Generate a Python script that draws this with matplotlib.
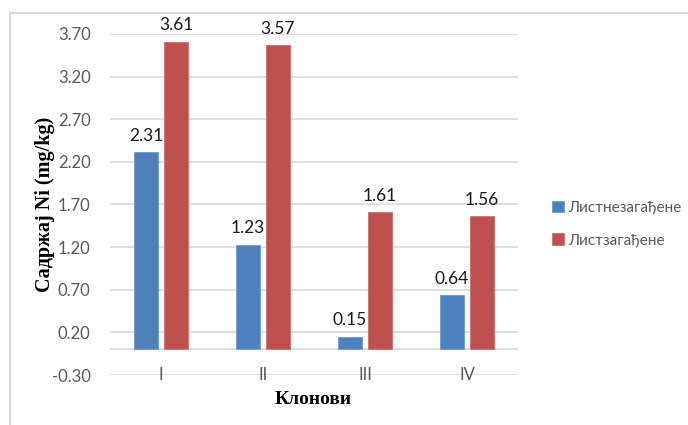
import matplotlib.pyplot as plt
import numpy as np

clones = ['I', 'II', 'III', 'IV']
unpolluted = [2.31, 1.23, 0.15, 0.64]
polluted = [3.61, 3.57, 1.61, 1.56]
series_names = ['Листнезагађене', 'Листзагађене']
yticks = [-0.30, 0.20, 0.70, 1.20, 1.70, 2.20, 2.70, 3.20, 3.70]

W, H = 688, 425
fig = plt.figure(figsize=(W / 100, H / 100), dpi=100)

# plot area in pixels: x 110..518, y 34 (3.70) .. 375 (-0.30)
x0, x1 = 110, 518
ytop, ybot = 34, 375
ax = fig.add_axes([x0 / W, 1 - ybot / H, (x1 - x0) / W, (ybot - ytop) / H])

blue = '#4F81BD'
red = '#C0504D'
x = np.arange(len(clones))
bw = 0.235
off = 0.147

ax.set_xlim(-0.5, len(clones) - 0.5)
ax.set_ylim(-0.30, 3.70)
for yv in yticks + [0.0]:
    ax.axhline(yv, color='#D9D9D9', lw=1.2, zorder=0)

b1 = ax.bar(x - off, unpolluted, bw, color=blue, edgecolor='#6E9AD0', lw=0.6, zorder=2, label=series_names[0])
b2 = ax.bar(x + off, polluted, bw, color=red, edgecolor='#D46E6B', lw=0.6, zorder=2, label=series_names[1])

for bars, vals in [(b1, unpolluted), (b2, polluted)]:
    for b, v in zip(bars, vals):
        ax.annotate(f'{v:.2f}', (b.get_x() + b.get_width() / 2, v), xytext=(0, 6),
                    textcoords='offset points', ha='center', va='bottom',
                    fontsize=12.5, family='Lato', color='#1a1a1a')

for s in ax.spines.values():
    s.set_visible(False)
ax.set_yticks(yticks)
ax.set_yticklabels([f'{v:.2f}' for v in yticks], family='Lato', fontsize=12, color='#595959')
ax.tick_params(axis='y', length=0, pad=14)

# category labels sit on the bottom gridline
ax.set_xticks([])
for xi, lab in zip(x, clones):
    ax.text(xi, -0.30, lab, ha='center', va='center', family='Lato', fontsize=12, color='#595959')

ax.set_ylabel('Садржај Ni (mg/kg)', family='Liberation Serif', fontweight='bold', fontsize=14.5)
ax.yaxis.set_label_coords(-65 / (x1 - x0), 0.5)
ax.yaxis.label.set_va('center')
fig.text(313 / W, 1 - 400 / H, 'Клонови', ha='center', va='center',
         family='Liberation Serif', fontweight='bold', fontsize=14)

ax.legend(loc='upper left', bbox_to_anchor=(538 / W, 1 - 187 / H), bbox_transform=fig.transFigure,
          frameon=False, prop={'family': 'Lato', 'size': 11}, handlelength=0.8, handleheight=0.8,
          handletextpad=0.3, labelspacing=1.2, labelcolor='#595959')

# outer chart frame (top and left edges)
fig.add_artist(plt.Line2D([10 / W, 1], [1 - 13 / H, 1 - 13 / H], color='#D9D9D9', lw=1.5, transform=fig.transFigure))
fig.add_artist(plt.Line2D([10 / W, 10 / W], [0, 1 - 13 / H], color='#D9D9D9', lw=1.5, transform=fig.transFigure))

fig.savefig('out.png', dpi=100)
